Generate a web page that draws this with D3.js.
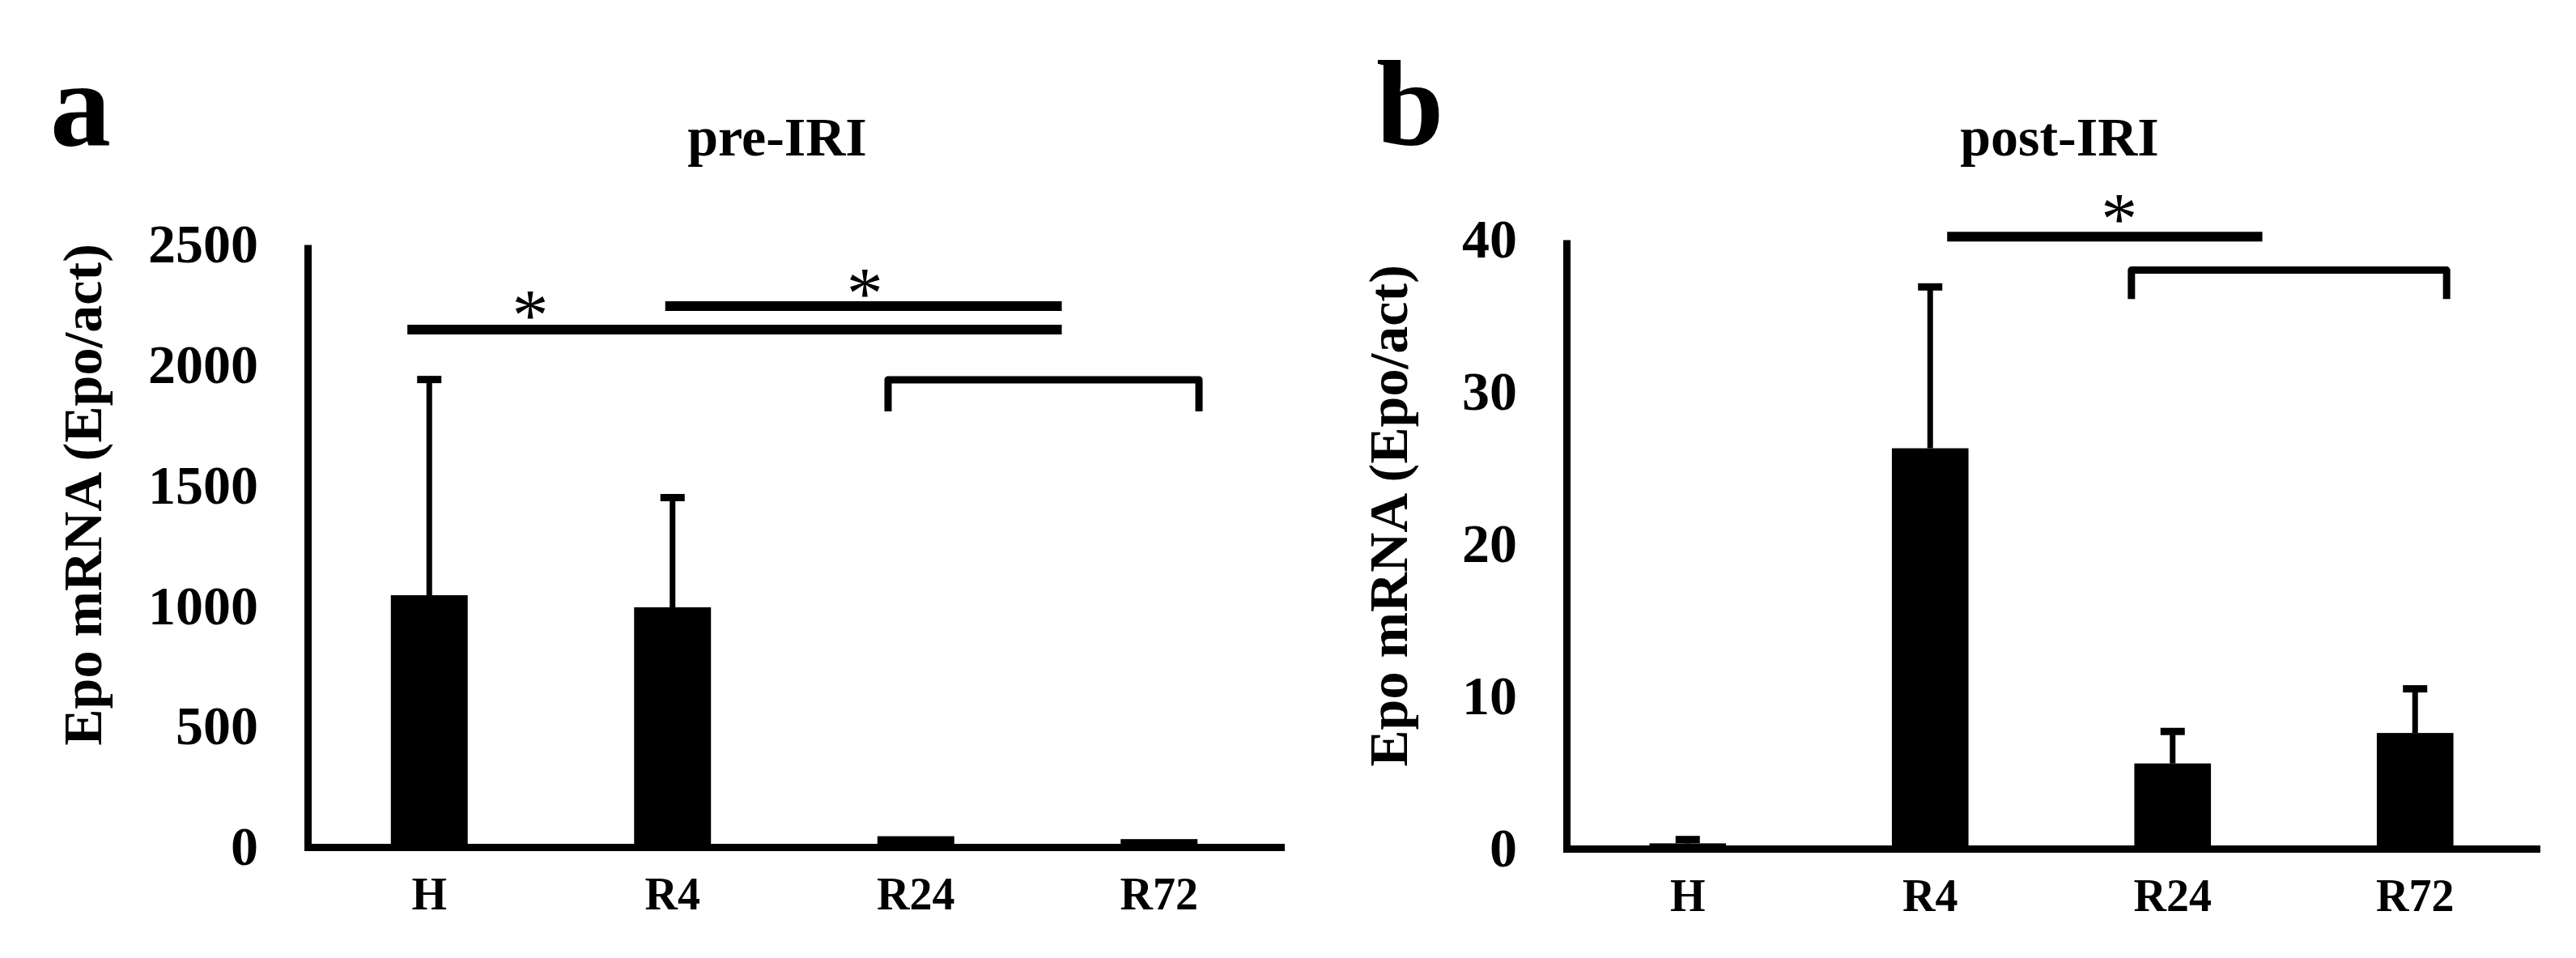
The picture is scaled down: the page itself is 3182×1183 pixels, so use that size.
<!DOCTYPE html>
<html>
<head>
<meta charset="utf-8">
<script src="https://cdn.jsdelivr.net/npm/d3@7"></script>
<style>
  body { margin: 0; background: #fff; }
  svg { display: block; }
  text { font-family: "Liberation Serif", "Times New Roman", "DejaVu Serif", serif; font-weight: bold; fill: #000; }
</style>
</head>
<body>
<svg id="chart" width="3182" height="1183"></svg>
<script>
// groups on the x axis
const categories = ["H", "R4", "R24", "R72"];

// panel a: pre-IRI, mean and upper error
const preMeans = [1045, 995, 45, 33];
const preErrors = [895, 455, 0, 0];
const preTicks = [0, 500, 1000, 1500, 2000, 2500];

// panel b: post-IRI
const postMeans = [0.35, 26.3, 5.6, 7.6];
const postErrors = [0.25, 10.6, 2.1, 2.9];
const postTicks = [0, 10, 20, 30, 40];

// significance marks, in chart units (x = category index, y = value)
const preLines = [{x1: -0.09, x2: 2.6, y: 2147}, {x1: 0.97, x2: 2.6, y: 2245}];
const preBrackets = [{x1: 1.886, x2: 3.164, top: 1939, bottom: 1808}];
const preStars = [{x: 0.415, y: 2184}, {x: 1.79, y: 2275}];

const postLines = [{x1: 1.07, x2: 2.37, y: 40.2}];
const postBrackets = [{x1: 1.83, x2: 3.13, top: 38.0, bottom: 36.1}];
const postStars = [{x: 1.78, y: 41.0}];

const svg = d3.select("#chart");

const panels = [
    {letter: "a", title: "pre-IRI", means: preMeans, errors: preErrors, ticks: preTicks,
     lines: preLines, brackets: preBrackets, stars: preStars,
     left: 380, right: 1582, top: 302, bottom: 1046,
     letterX: 62, titleX: 960, yTitleX: 125, yTitleY: 611},
    {letter: "b", title: "post-IRI", means: postMeans, errors: postErrors, ticks: postTicks,
     lines: postLines, brackets: postBrackets, stars: postStars,
     left: 1935, right: 3133, top: 296, bottom: 1048,
     letterX: 1700, titleX: 2544, yTitleX: 1738, yTitleY: 637}
];

panels.forEach(p => {
    const x = d3.scaleBand().domain(categories).range([p.left, p.right]);
    const y = d3.scaleLinear().domain([0, d3.max(p.ticks)]).range([p.bottom, p.top]);
    // fractional category position -> pixel
    const xi = i => p.left + x.step() * (i + 0.5);
    const barW = x.bandwidth() * 0.316;

    const g = svg.append("g");

    // bars
    g.selectAll("rect.bar")
        .data(categories)
        .join("rect")
        .attr("class", "bar")
        .attr("x", d => x(d) + x.bandwidth() / 2 - barW / 2)
        .attr("width", barW)
        .attr("y", (d, i) => y(p.means[i]))
        .attr("height", (d, i) => y(0) - y(p.means[i]))
        .attr("fill", "#000");

    // error bars (upper only)
    const errs = categories.map((c, i) => ({c, m: p.means[i], e: p.errors[i]})).filter(d => d.e > 0);
    g.selectAll("line.err")
        .data(errs)
        .join("line")
        .attr("x1", d => x(d.c) + x.bandwidth() / 2)
        .attr("x2", d => x(d.c) + x.bandwidth() / 2)
        .attr("y1", d => y(d.m))
        .attr("y2", d => y(d.m + d.e))
        .attr("stroke", "#000")
        .attr("stroke-width", 7);
    g.selectAll("rect.cap")
        .data(errs)
        .join("rect")
        .attr("x", d => x(d.c) + x.bandwidth() / 2 - 15)
        .attr("y", d => y(d.m + d.e) - 4.5)
        .attr("width", 30)
        .attr("height", 9)
        .attr("fill", "#000");

    // axes
    const yAxis = g.append("g")
        .attr("transform", `translate(${p.left},0)`)
        .call(d3.axisLeft(y).tickValues(p.ticks).tickFormat(d3.format("d")).tickSize(0).tickPadding(61));
    yAxis.select(".domain").attr("stroke", "#000").attr("stroke-width", 9);
    yAxis.selectAll("text").style("font-size", "68px");

    const xAxis = g.append("g")
        .attr("transform", `translate(0,${p.bottom})`)
        .call(d3.axisBottom(x).tickSize(0).tickPadding(37));
    xAxis.select(".domain").attr("stroke", "#000").attr("stroke-width", 9).attr("stroke-linecap", "square");
    xAxis.selectAll("text").style("font-size", "56px");
    g.selectAll(".domain").attr("fill", "none");
    g.selectAll(".tick text")
        .attr("font-family", null)
        .style("font-family", "'Liberation Serif', 'Times New Roman', serif")
        .style("font-weight", "bold");

    // significance lines
    g.selectAll("line.sig")
        .data(p.lines)
        .join("line")
        .attr("x1", d => xi(d.x1))
        .attr("x2", d => xi(d.x2))
        .attr("y1", d => y(d.y))
        .attr("y2", d => y(d.y))
        .attr("stroke", "#000")
        .attr("stroke-width", 12);

    g.selectAll("path.bracket")
        .data(p.brackets)
        .join("path")
        .attr("d", d => `M${xi(d.x1)},${y(d.bottom)}V${y(d.top)}H${xi(d.x2)}V${y(d.bottom)}`)
        .attr("fill", "none")
        .attr("stroke", "#000")
        .attr("stroke-width", 9)
        .attr("stroke-linejoin", "round");

    g.selectAll("text.star")
        .data(p.stars)
        .join("text")
        .attr("x", d => xi(d.x))
        .attr("y", d => y(d.y) + 24)
        .attr("text-anchor", "middle")
        .style("font-size", "90px")
        .style("font-weight", "normal")
        .text("*");

    // texts
    g.append("text")
        .attr("x", p.letterX)
        .attr("y", 179)
        .style("font-size", "150px")
        .text(p.letter);

    g.append("text")
        .attr("x", p.titleX)
        .attr("y", 192)
        .attr("text-anchor", "middle")
        .style("font-size", "68px")
        .text(p.title);

    g.append("text")
        .attr("transform", `translate(${p.yTitleX},${p.yTitleY}) rotate(-90)`)
        .attr("text-anchor", "middle")
        .style("font-size", "68px")
        .text("Epo mRNA (Epo/act)");
});
</script>
</body>
</html>
